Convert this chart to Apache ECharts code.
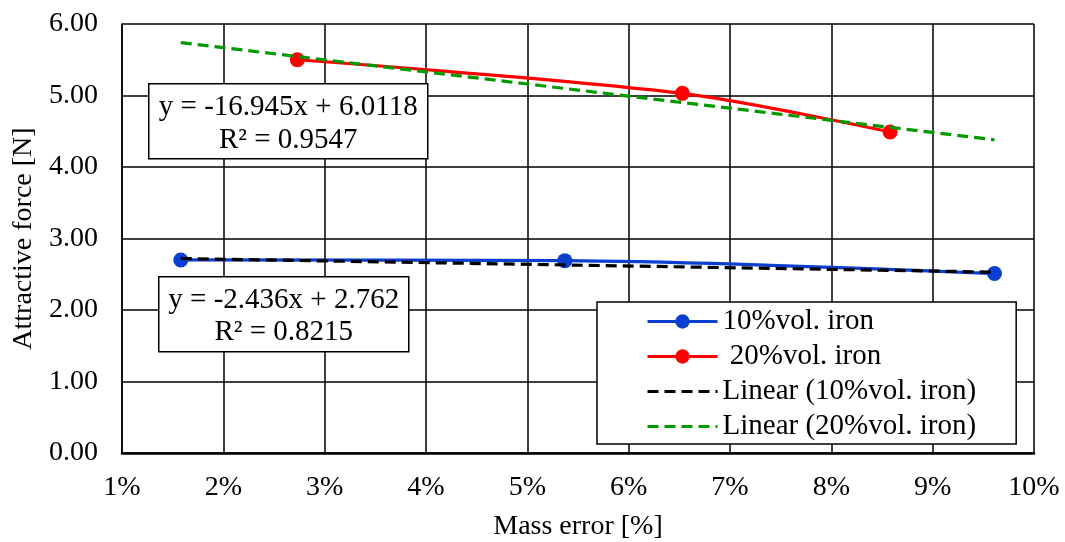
<!DOCTYPE html>
<html>
<head>
<meta charset="utf-8">
<script src="https://cdn.jsdelivr.net/npm/echarts@6/dist/echarts.min.js"></script>
<style>html,body{margin:0;padding:0;background:#fff}#c{width:1065px;height:542px}</style>
</head>
<body>
<div id="c"></div>
<script>
// Data (x in % mass error, y in N)
const iron10X = [1.58, 5.37, 9.61];
const iron10Y = [2.70, 2.69, 2.51];
const iron20X = [2.73, 6.53, 8.58];
const iron20Y = [5.50, 5.03, 4.49];
const trend10X = [1.58, 9.61];
const trend10Y = [2.72, 2.53];
const trend20X = [1.58, 9.61];
const trend20Y = [5.74, 4.38];
const seriesNames = ['10%vol. iron', ' 20%vol. iron', 'Linear (10%vol. iron)', 'Linear (20%vol. iron)'];
const eq10 = ['y = -2.436x + 2.762', 'R² = 0.8215'];
const eq20 = ['y = -16.945x + 6.0118', 'R² = 0.9547'];
const xTicks = [1, 2, 3, 4, 5, 6, 7, 8, 9, 10];

const zip = (xs, ys) => xs.map((x, i) => [x, ys[i]]);
const FONT = 'Liberation Serif, Times New Roman, serif';
const FS = 28;
const FSB = 29;

const chart = echarts.init(document.getElementById('c'), null, {renderer: 'canvas'});
chart.setOption({
  animation: false,
  backgroundColor: '#fff',
  textStyle: {fontFamily: FONT, color: '#000'},
  grid: {left: 122, right: 31, top: 24, bottom: 89, containLabel: false, outerBoundsMode: 'none'},
  xAxis: {
    type: 'value', min: xTicks[0], max: xTicks[xTicks.length - 1], interval: 1,
    name: 'Mass error [%]', nameLocation: 'middle', nameGap: 60,
    nameTextStyle: {fontFamily: FONT, fontSize: FS, color: '#000'},
    axisLine: {show: true, onZero: false, lineStyle: {color: '#000', width: 2.5}},
    axisTick: {show: false},
    axisLabel: {formatter: '{value}%', fontFamily: FONT, fontSize: FS, color: '#000', margin: 21},
    splitLine: {show: true, lineStyle: {color: '#000', width: 1.5}}
  },
  yAxis: {
    type: 'value', min: 0, max: 6, interval: 1,
    name: 'Attractive force [N]', nameLocation: 'middle', nameGap: 80, nameRotate: 90,
    nameTextStyle: {fontFamily: FONT, fontSize: FS, color: '#000'},
    axisLine: {show: true, lineStyle: {color: '#000', width: 1.5}},
    axisTick: {show: false},
    axisLabel: {formatter: v => v.toFixed(2), fontFamily: FONT, fontSize: FS, color: '#000', margin: 24},
    splitLine: {show: true, lineStyle: {color: '#000', width: 1.5}}
  },
  legend: {
    orient: 'vertical', left: 597, top: 302,
    data: [
      {name: seriesNames[0]},
      {name: seriesNames[1]},
      {name: seriesNames[2], itemStyle: {opacity: 0}},
      {name: seriesNames[3], itemStyle: {opacity: 0}}
    ],
    itemWidth: 70, itemHeight: 18, itemGap: 6,
    padding: [5, 40, 3, 49],
    lineStyle: {width: 3},
    backgroundColor: '#fff', borderColor: '#000', borderWidth: 1.5,
    textStyle: {fontFamily: FONT, fontSize: FSB, color: '#000', lineHeight: 29},
    z: 10
  },
  series: [
    {name: seriesNames[0], type: 'line', data: zip(iron10X, iron10Y), smooth: 0.3,
     symbol: 'circle', symbolSize: 15, color: '#0A3FD0',
     lineStyle: {width: 3.2, color: '#0A3FD0'}, itemStyle: {color: '#0A3FD0'}, z: 3},
    {name: seriesNames[1], type: 'line', data: zip(iron20X, iron20Y), smooth: 0.3,
     symbol: 'circle', symbolSize: 15, color: '#FF0000',
     lineStyle: {width: 3.2, color: '#FF0000'}, itemStyle: {color: '#FF0000'}, z: 3},
    {name: seriesNames[2], type: 'line', data: zip(trend10X, trend10Y), symbol: 'none', color: '#000',
     lineStyle: {width: 3.2, color: '#000', type: [11, 6]}, z: 4},
    {name: seriesNames[3], type: 'line', data: zip(trend20X, trend20Y), symbol: 'none', color: '#009900',
     lineStyle: {width: 3.2, color: '#009900', type: [11, 6]}, z: 4}
  ],
  graphic: [
    {type: 'group', left: 148, top: 83, z: 20, children: [
      {type: 'rect', z: 20, shape: {x: 0, y: 0, width: 279, height: 75}, style: {fill: '#fff', stroke: '#000', lineWidth: 1.5}},
      {type: 'text', z: 21, x: 139.5, y: 24, style: {text: eq20[0], font: FSB + 'px ' + FONT, fill: '#000', align: 'center', verticalAlign: 'middle'}},
      {type: 'text', z: 21, x: 139.5, y: 57, style: {text: eq20[1], font: FSB + 'px ' + FONT, fill: '#000', align: 'center', verticalAlign: 'middle'}}
    ]},
    {type: 'group', left: 158, top: 276, z: 20, children: [
      {type: 'rect', z: 20, shape: {x: 0, y: 0, width: 250, height: 75}, style: {fill: '#fff', stroke: '#000', lineWidth: 1.5}},
      {type: 'text', z: 21, x: 125, y: 24, style: {text: eq10[0], font: FSB + 'px ' + FONT, fill: '#000', align: 'center', verticalAlign: 'middle'}},
      {type: 'text', z: 21, x: 125, y: 56, style: {text: eq10[1], font: FSB + 'px ' + FONT, fill: '#000', align: 'center', verticalAlign: 'middle'}}
    ]}
  ]
});
</script>
</body>
</html>
